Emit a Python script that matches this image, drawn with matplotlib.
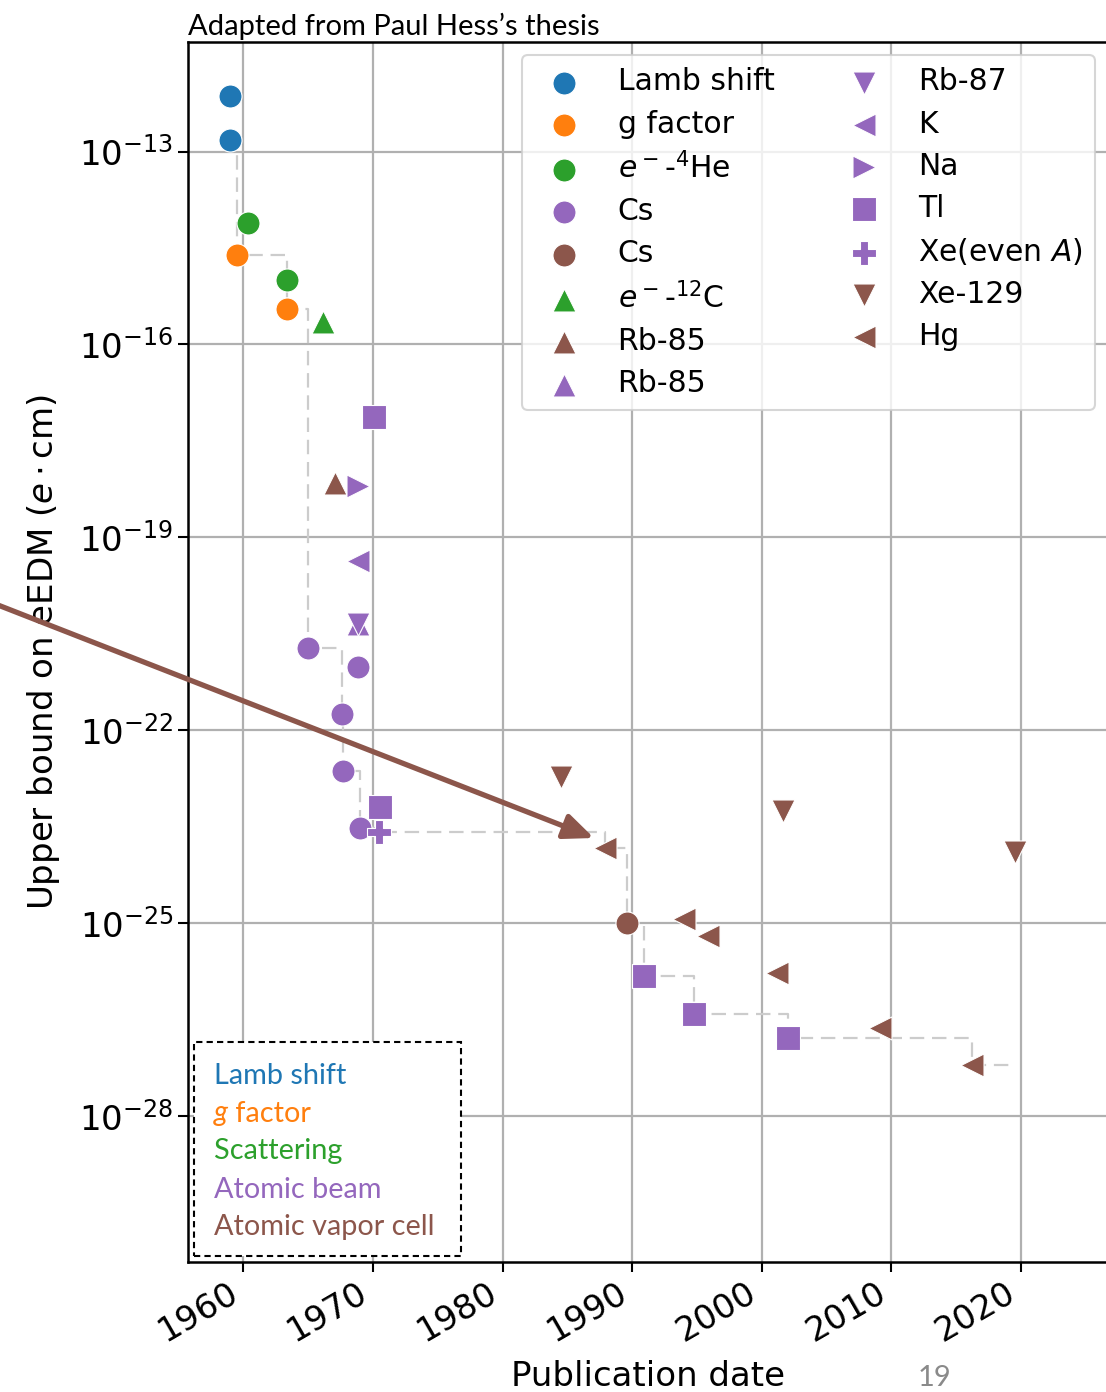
import matplotlib
matplotlib.use("Agg")
import matplotlib.pyplot as plt
import numpy as np
from matplotlib.patches import Rectangle, FancyArrowPatch
from matplotlib.ticker import NullLocator

# publication year and upper bound on the electron EDM (e cm)
lamb_year = [1958.96, 1958.96]
lamb_edm = [1.5e-13, 7.2e-13]
gfac_year = [1959.48, 1963.33]
gfac_edm = [2.5e-15, 3.6e-16]
he_year = [1960.32, 1963.33]
he_edm = [7.8e-15, 1.0e-15]
cs_beam_year = [1965.0, 1967.62, 1967.7, 1968.86, 1968.99]
cs_beam_edm = [1.9e-21, 1.8e-22, 2.3e-23, 9.5e-22, 3.0e-24]
cs_cell_year = [1989.62]
cs_cell_edm = [1.0e-25]
c12_year = [1966.1]
c12_edm = [2.2e-16]
rb85_cell_year = [1967.06]
rb85_cell_edm = [6.9e-19]
rb85_beam_year = [1968.86]
rb85_beam_edm = [4.5e-21]
rb87_year = [1968.86]
rb87_edm = [4.5e-21]
k_year = [1968.86]
k_edm = [4.3e-20]
na_year = [1968.86]
na_edm = [6.3e-19]
tl_year = [1970.09, 1970.53, 1990.93, 1994.73, 2002.03]
tl_edm = [7.4e-18, 6.5e-24, 1.5e-26, 3.8e-27, 1.66e-27]
xe_even_year = [1970.46]
xe_even_edm = [2.6e-24]
xe129_year = [1984.5, 2001.6, 2019.5]
xe129_edm = [1.9e-23, 5.6e-24, 1.3e-24]
hg_year = [1987.87, 1993.98, 1995.86, 2001.2, 2009.1, 2016.2]
hg_edm = [1.45e-24, 1.15e-25, 6.3e-26, 1.66e-26, 2.3e-27, 6.3e-28]

year_ticks = [1960, 1970, 1980, 1990, 2000, 2010, 2020]
edm_ticks = [1e-13, 1e-16, 1e-19, 1e-22, 1e-25, 1e-28]

method_names = ['Lamb shift', 'g factor', 'Scattering', 'Atomic beam', 'Atomic vapor cell']

BLUE = '#1f77b4'
ORANGE = '#ff7f0e'
GREEN = '#2ca02c'
PURPLE = '#9467bd'
BROWN = '#8c564b'
method_colors = [BLUE, ORANGE, GREEN, PURPLE, BROWN]

series = [
    (lamb_year, lamb_edm, 'Lamb shift', BLUE, 'o'),
    (gfac_year, gfac_edm, 'g factor', ORANGE, 'o'),
    (he_year, he_edm, r'$e^-$-$^4$He', GREEN, 'o'),
    (cs_beam_year, cs_beam_edm, 'Cs', PURPLE, 'o'),
    (cs_cell_year, cs_cell_edm, 'Cs', BROWN, 'o'),
    (c12_year, c12_edm, r'$e^-$-$^{12}$C', GREEN, '^'),
    (rb85_cell_year, rb85_cell_edm, 'Rb-85', BROWN, '^'),
    (rb85_beam_year, rb85_beam_edm, 'Rb-85', PURPLE, '^'),
    (rb87_year, rb87_edm, 'Rb-87', PURPLE, 'v'),
    (k_year, k_edm, 'K', PURPLE, '<'),
    (na_year, na_edm, 'Na', PURPLE, '>'),
    (tl_year, tl_edm, 'Tl', PURPLE, 's'),
    (xe_even_year, xe_even_edm, r'Xe(even $A$)', PURPLE, 'P'),
    (xe129_year, xe129_edm, 'Xe-129', BROWN, 'v'),
    (hg_year, hg_edm, 'Hg', BROWN, '<'),
]

W, H = 1106, 1392
fig = plt.figure(figsize=(W / 100, H / 100), dpi=100)
ax = fig.add_axes([188 / W, 1 - 1262 / H, 920 / W, 1220 / H])

# best limit so far (running minimum)
all_year = np.concatenate([np.array(s[0], dtype=float) for s in series])
all_edm = np.concatenate([np.array(s[1], dtype=float) for s in series])
order = np.argsort(all_year, kind='stable')
best = np.minimum.accumulate(all_edm[order])
ax.plot(all_year[order], best, drawstyle='steps-post', color='#cccccc',
        lw=1.6, ls=(0, (6.5, 3.5)), zorder=2)

for years, edm, label, color, marker in series:
    ax.scatter(years, edm, s=275, c=color, marker=marker, label=label,
               edgecolors='white', linewidths=0.8, zorder=3)

ax.set_yscale('log')
ax.set_xlim(1955.72, 2026.71)
ax.set_ylim(10 ** -30.27, 10 ** -11.297)
ax.set_yticks(edm_ticks)
ax.yaxis.set_minor_locator(NullLocator())
ax.set_xticks(year_ticks)
ax.set_xticklabels([str(y) for y in year_ticks], rotation=30, ha='right')
ax.tick_params(labelsize=24.5, length=7, width=1.5)
ax.grid(True, color='#b0b0b0', lw=1.6)
ax.set_axisbelow(True)
for sp in ax.spines.values():
    sp.set_linewidth(1.8)

ax.set_xlabel('Publication date', fontsize=24.5, labelpad=8)
ax.set_ylabel(r'Upper bound on eEDM ($e\cdot$cm)', fontsize=24.5, labelpad=12)

leg = ax.legend(ncol=2, loc='upper right', fontsize=21.5, scatterpoints=1,
                framealpha=0.8, borderaxespad=0.45, labelspacing=0.44)
leg.get_frame().set_linewidth(1.5)

# slide annotations
fig.text(188 / W, 1 - 35 / H, 'Adapted from Paul Hess\u2019s thesis', family='Lato',
         fontsize=21, va='baseline', ha='left')
fig.text(934 / W, 1 - 1386 / H, '19', family='Lato', fontsize=21, color='#8a8a8a',
         va='baseline', ha='center')

arrow = FancyArrowPatch((-20 / W, 1 - 598 / H), (594 / W, 1 - 838 / H),
                        transform=fig.transFigure,
                        arrowstyle='-|>,head_length=0.75,head_width=0.32',
                        mutation_scale=24, lw=3.8, color=BROWN,
                        shrinkA=0, shrinkB=0, zorder=5)
fig.patches.append(arrow)

box = Rectangle((194 / W, 1 - 1256 / H), 267 / W, 214 / H, transform=fig.transFigure,
                facecolor='white', edgecolor='black', lw=1.5, ls=(0, (3, 2)), zorder=4)
fig.patches.append(box)

renderer = fig.canvas.get_renderer()
baselines = [1083.5, 1121.5, 1159.5, 1197.5, 1235.5]
for name, color, yb in zip(method_names, method_colors, baselines):
    x0 = 214 / W
    y0 = 1 - yb / H
    if name == 'g factor':
        t = fig.text(x0, y0, 'g', family='Lato', style='italic', fontsize=20.8,
                     color=color, va='baseline', zorder=6)
        w = t.get_window_extent(renderer).width
        fig.text(x0 + w / W, y0, ' factor', family='Lato', fontsize=20.8,
                 color=color, va='baseline', zorder=6)
    else:
        fig.text(x0, y0, name, family='Lato', fontsize=20.8, color=color,
                 va='baseline', zorder=6)

fig.savefig('out.png', dpi=100)
